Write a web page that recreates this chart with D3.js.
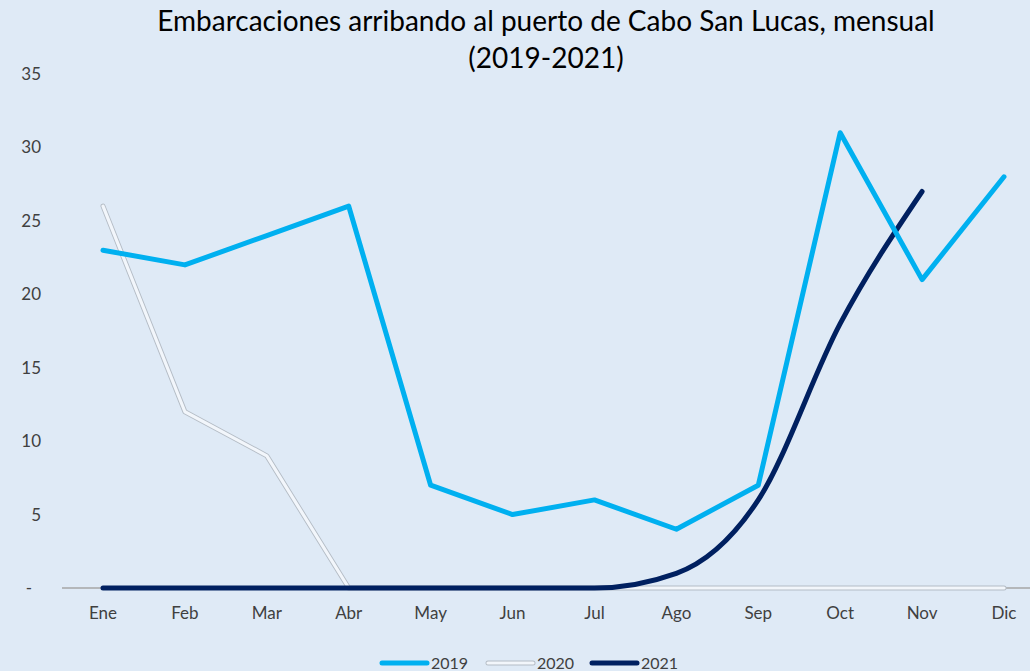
<!DOCTYPE html>
<html>
<head>
<meta charset="utf-8">
<script src="https://cdn.jsdelivr.net/npm/d3@7"></script>
<style>
  body { margin: 0; background: #dfeaf6; }
  svg { display: block; font-family: Lato, "Open Sans", sans-serif; }
</style>
</head>
<body>
<svg id="chart" width="1030" height="671"></svg>
<script>
var months = ["Ene", "Feb", "Mar", "Abr", "May", "Jun", "Jul", "Ago", "Sep", "Oct", "Nov", "Dic"];
var v2019 = [23, 22, 24, 26, 7, 5, 6, 4, 7, 31, 21, 28];
var v2020 = [26, 12, 9, 0, 0, 0, 0, 0, 0, 0, 0, 0];
var v2021 = [0, 0, 0, 0, 0, 0, 0, 1, 6, 18, 27];
var yTicks = [0, 5, 10, 15, 20, 25, 30, 35];

const svg = d3.select('#chart'),
    width = +svg.attr('width'),
    height = +svg.attr('height');

svg.append('rect').attr('width', width).attr('height', height).attr('fill', '#dfeaf6');

var x = d3.scalePoint().domain(months).range([103, 1004]);
var y = d3.scaleLinear().domain([0, 35]).range([588, 74]);

// title
var title = svg.append('text')
    .attr('text-anchor', 'middle')
    .attr('font-size', 28)
    .attr('fill', '#000');
title.append('tspan').attr('x', 546).attr('y', 31).text('Embarcaciones arribando al puerto de Cabo San Lucas, mensual');
title.append('tspan').attr('x', 546).attr('y', 68).text('(2019-2021)');

// y axis labels (no line)
svg.append('g').selectAll('text')
    .data(yTicks)
    .enter().append('text')
    .attr('x', 41)
    .attr('y', d => y(d) + 6)
    .attr('text-anchor', 'end')
    .attr('font-size', 17)
    .attr('fill', '#404040')
    .text(d => d === 0 ? '-' : d)
    .attr('dx', d => d === 0 ? -9 : 0);

// x axis line
svg.append('line')
    .attr('x1', 62).attr('x2', 1030)
    .attr('y1', y(0)).attr('y2', y(0))
    .attr('stroke', '#a6a6a6').attr('stroke-width', 1.5);

// x labels
svg.append('g').selectAll('text')
    .data(months)
    .enter().append('text')
    .attr('x', d => x(d))
    .attr('y', 619)
    .attr('text-anchor', 'middle')
    .attr('font-size', 17)
    .attr('fill', '#404040')
    .text(d => d);

var straight = d3.line().x((d, i) => x(months[i])).y(d => y(d));
var smooth = d3.line().x((d, i) => x(months[i])).y(d => y(d)).curve(d3.curveMonotoneX);

// 2020: white line with gray outline
svg.append('path').datum(v2020)
    .attr('d', straight).attr('fill', 'none')
    .attr('stroke', '#b4bcc5').attr('stroke-width', 5).attr('stroke-linejoin', 'round').attr('stroke-linecap', 'round');
svg.append('path').datum(v2020)
    .attr('d', straight).attr('fill', 'none')
    .attr('stroke', '#f2f6fb').attr('stroke-width', 3.2).attr('stroke-linejoin', 'round').attr('stroke-linecap', 'round');

// 2021
svg.append('path').datum(v2021)
    .attr('d', smooth).attr('fill', 'none')
    .attr('stroke', '#002060').attr('stroke-width', 5).attr('stroke-linejoin', 'round').attr('stroke-linecap', 'round');

// 2019
svg.append('path').datum(v2019)
    .attr('d', straight).attr('fill', 'none')
    .attr('stroke', '#00b0f0').attr('stroke-width', 5).attr('stroke-linejoin', 'round').attr('stroke-linecap', 'round');

// legend
var legendItems = [
    {name: '2019', x: 382, color: '#00b0f0', outline: null},
    {name: '2020', x: 488, color: '#f2f6fb', outline: '#b4bcc5'},
    {name: '2021', x: 592, color: '#002060', outline: null}
];
var lg = svg.append('g').selectAll('g').data(legendItems).enter().append('g');
lg.filter(d => d.outline).append('line')
    .attr('x1', d => d.x).attr('x2', d => d.x + 45)
    .attr('y1', 663).attr('y2', 663)
    .attr('stroke', d => d.outline).attr('stroke-width', 5).attr('stroke-linecap', 'round');
lg.append('line')
    .attr('x1', d => d.x).attr('x2', d => d.x + 45)
    .attr('y1', 663).attr('y2', 663)
    .attr('stroke', d => d.color).attr('stroke-width', d => d.outline ? 3.2 : 5).attr('stroke-linecap', 'round');
lg.append('text')
    .attr('x', d => d.x + 49)
    .attr('y', 669)
    .attr('font-size', 16)
    .attr('fill', '#404040')
    .text(d => d.name);
</script>
</body>
</html>
